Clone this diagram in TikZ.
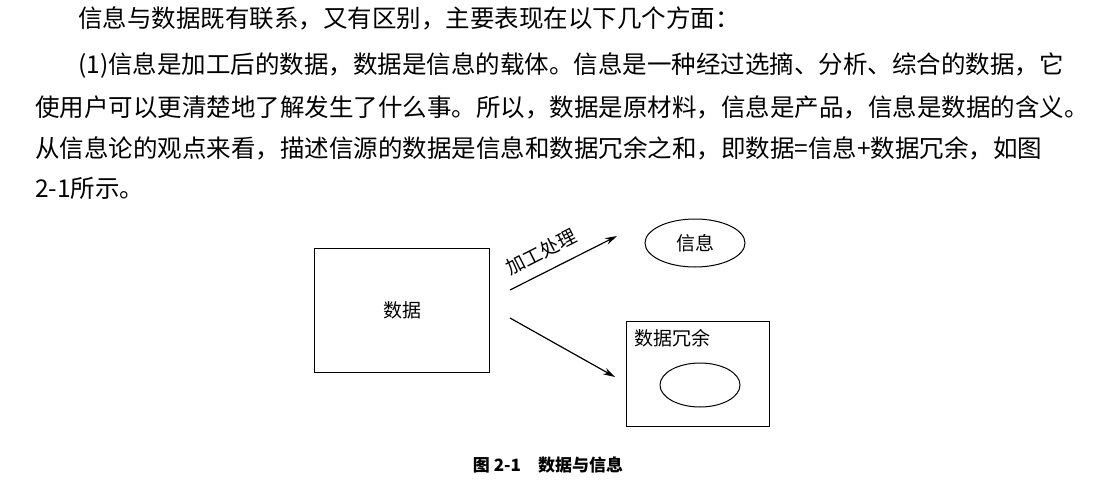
\documentclass[tikz,border=0pt]{standalone}
\usepackage{fontspec}
\setmainfont{Noto Sans CJK SC}
\usetikzlibrary{arrows.meta,shapes.geometric}
\begin{document}
\begin{tikzpicture}[x=1pt,y=-1pt,
  para/.style={anchor=west,inner sep=0pt,font=\fontsize{24.5}{27}\selectfont},
  lbl/.style={inner sep=0pt,font=\fontsize{19}{22}\selectfont},
  conn/.style={line width=1.2pt,-{Stealth[length=12pt,width=7pt]}}]
\useasboundingbox[fill=white] (0,0) rectangle (1102,495);
\node[para] (l1) at (78,18) {信息与数据既有联系，又有区别，主要表现在以下几个方面：};
\node[para] (l2) at (78,65) {(1)信息是加工后的数据，数据是信息的载体。信息是一种经过选摘、分析、综合的数据，它};
\node[para] (l3) at (35,107) {使用户可以更清楚地了解发生了什么事。所以，数据是原材料，信息是产品，信息是数据的含义。};
\node[para] (l4) at (35,148) {从信息论的观点来看，描述信源的数据是信息和数据冗余之和，即数据=信息+数据冗余，如图};
\node[para] (l5) at (35,188) {2-1所示。};
\node[draw,line width=1pt,minimum width=175pt,minimum height=124pt,lbl] (data) at (402,310) {数据};
\node[draw,ellipse,line width=1pt,minimum width=100pt,minimum height=48pt,lbl] (info) at (695,243) {信息};
\node[draw,line width=1pt,minimum width=143pt,minimum height=105pt] (red) at (698,374) {};
\node[lbl,anchor=north west] (redt) at ([shift={(8,8)}]red.north west) {数据冗余};
\node[draw,ellipse,line width=1pt,minimum width=80pt,minimum height=44pt] (inner) at (700,385) {};
\coordinate (s1) at (510,290); \coordinate (s2) at (510,318);
\coordinate (e1) at (617,236); \coordinate (e2) at (615,377);
\draw[conn] (s1) -- (e1);
\draw[conn] (s2) -- (e2);
\node[lbl,rotate=27] (proc) at (541,252) {加工处理};
\node[inner sep=0pt,font=\fontsize{17}{20}\selectfont\bfseries] (cap) at (548,465) {图 2-1\quad 数据与信息};
\end{tikzpicture}
\end{document}
